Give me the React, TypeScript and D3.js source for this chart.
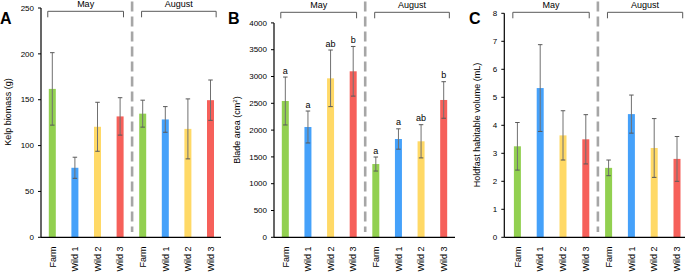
import React from "react";
import * as d3 from "d3";

const categories = ["Farm", "Wild 1", "Wild 2", "Wild 3"];
const seasons = ["May", "August"];
const colors = ["#92D050", "#45A1FA", "#FFD966", "#F6605A"];

const biomassMean = [161.8, 75.8, 120.5, 131.8, 134.8, 128.5, 118.2, 149.5];
const biomassErr = [39.5, 11.5, 26.7, 20.4, 14.7, 14.0, 32.7, 22.0];
const biomassTicks = [0, 50, 100, 150, 200, 250];

const bladeMean = [2543, 2058, 2966, 3097, 1367, 1834, 1791, 2562];
const bladeErr = [447, 298, 528, 463, 131, 190, 310, 341];
const bladeLetters = ["a", "a", "ab", "b", "a", "a", "ab", "b"];
const bladeTicks = [0, 500, 1000, 1500, 2000, 2500, 3000, 3500, 4000];

const holdfastMean = [3.25, 5.33, 3.64, 3.5, 2.48, 4.4, 3.19, 2.8];
const holdfastErr = [0.85, 1.55, 0.88, 0.88, 0.28, 0.68, 1.05, 0.8];
const holdfastTicks = [0, 1, 2, 3, 4, 5, 6, 7, 8];

const FONT = "Liberation Sans, Arial, Helvetica, sans-serif";

type PanelProps = {
  letter: string;
  title: React.ReactNode;
  titleX: number;
  titleY: number;
  axisX: number;
  bandStart: number;
  bandEnd: number;
  axisEnd: number;
  yTop: number;
  yBot: number;
  ticks: number[];
  means: number[];
  errs: number[];
  letters?: string[];
  bracketY: number;
  letterX: number;
};

function Panel(p: PanelProps) {
  const keys = seasons.flatMap((s) => categories.map((c) => s + "|" + c));
  const x = d3.scaleBand<string>().domain(keys).range([p.bandStart, p.bandEnd]).padding(0);
  const ymax = p.ticks[p.ticks.length - 1];
  const y = d3.scaleLinear().domain([0, ymax]).range([p.yBot, p.yTop]);
  const bw = x.bandwidth();
  const barW = 7;
  const capW = 4.5;
  const divX = p.bandStart + 4 * bw + 0.7;
  const brackets = [
    { label: seasons[0], a: 0.3, b: 3.65 },
    { label: seasons[1], a: 4.45, b: 7.75 },
  ];
  return (
    <g fontFamily={FONT}>
      <text x={p.letterX} y={24} fontSize={16} fontWeight="bold" fill="#000">
        {p.letter}
      </text>
      <text
        transform={`translate(${p.titleX},${p.titleY}) rotate(-90)`}
        textAnchor="middle"
        fontSize={9}
        fill="#000"
      >
        {p.title}
      </text>
      {/* divider */}
      <line
        x1={divX}
        x2={divX}
        y1={1.5}
        y2={232}
        stroke="#A6A6A6"
        strokeWidth={2.6}
        strokeDasharray="10,5"
      />
      {/* brackets */}
      {brackets.map((br) => {
        const xa = p.bandStart + br.a * bw;
        const xb = p.bandStart + br.b * bw;
        return (
          <g key={br.label}>
            <path
              d={`M${xa},${p.bracketY + 6}V${p.bracketY}H${xb}V${p.bracketY + 6}`}
              fill="none"
              stroke="#595959"
              strokeWidth={1}
            />
            <text x={(xa + xb) / 2} y={p.bracketY - 4} textAnchor="middle" fontSize={9} fill="#000">
              {br.label}
            </text>
          </g>
        );
      })}
      {/* bars */}
      {keys.map((k, i) => {
        const cx = x(k)! + bw / 2;
        const top = y(p.means[i]);
        const eTop = y(p.means[i] + p.errs[i]);
        const eBot = y(p.means[i] - p.errs[i]);
        return (
          <g key={k}>
            <rect x={cx - barW / 2} y={top} width={barW} height={p.yBot - top} fill={colors[i % 4]} />
            <line x1={cx} x2={cx} y1={eTop} y2={eBot} stroke="#707070" strokeWidth={1} />
            <line x1={cx - capW / 2} x2={cx + capW / 2} y1={eTop} y2={eTop} stroke="#595959" strokeWidth={1} />
            <line x1={cx - capW / 2} x2={cx + capW / 2} y1={eBot} y2={eBot} stroke="#595959" strokeWidth={1} />
            {p.letters && (
              <text x={cx} y={eTop - 3.5} textAnchor="middle" fontSize={9} fill="#000">
                {p.letters[i]}
              </text>
            )}
            <text
              transform={`translate(${cx + 3.2},${246.5}) rotate(-90)`}
              textAnchor="end"
              fontSize={9}
              fill="#000"
            >
              {categories[i % 4]}
            </text>
          </g>
        );
      })}
      {/* y axis */}
      <line x1={p.axisX} x2={p.axisX} y1={p.yTop} y2={p.yBot} stroke="#000" strokeWidth={1.2} />
      {p.ticks.map((t) => (
        <g key={t}>
          <line x1={p.axisX - 3} x2={p.axisX} y1={y(t)} y2={y(t)} stroke="#000" strokeWidth={1} />
          <text x={p.axisX - 7} y={y(t)} dy="0.34em" textAnchor="end" fontSize={8} fill="#000">
            {t}
          </text>
        </g>
      ))}
      {/* x axis */}
      <line x1={p.axisX} x2={p.axisEnd} y1={p.yBot} y2={p.yBot} stroke="#000" strokeWidth={1.2} />
    </g>
  );
}

export default function App() {
  return (
    <div style={{ position: "absolute", left: 0, top: 0 }}>
      <svg width={685} height={273} style={{ display: "block", background: "#fff" }}>
        <rect width={685} height={273} fill="#fff" />
        <Panel
          letter="A"
          title="Kelp biomass (g)"
          titleX={11}
          titleY={112}
          axisX={41}
          bandStart={41}
          bandEnd={221.8}
          axisEnd={221}
          yTop={8}
          yBot={237.3}
          ticks={biomassTicks}
          means={biomassMean}
          errs={biomassErr}
          bracketY={11.3}
          letterX={0}
        />
        <Panel
          letter="B"
          title={
            <>
              Blade area (cm
              <tspan dy={-3} fontSize={6}>
                2
              </tspan>
              <tspan dy={3}>)</tspan>
            </>
          }
          titleX={240}
          titleY={130}
          axisX={274}
          bandStart={274}
          bandEnd={455}
          axisEnd={455}
          yTop={22.9}
          yBot={237.3}
          ticks={bladeTicks}
          means={bladeMean}
          errs={bladeErr}
          letters={bladeLetters}
          bracketY={12.3}
          letterX={228}
        />
        <Panel
          letter="C"
          title="Holdfast habitable volume (mL)"
          titleX={480}
          titleY={125}
          axisX={504.3}
          bandStart={506}
          bandEnd={688.4}
          axisEnd={685}
          yTop={13.3}
          yBot={237.3}
          ticks={holdfastTicks}
          means={holdfastMean}
          errs={holdfastErr}
          bracketY={12.3}
          letterX={469}
        />
      </svg>
    </div>
  );
}
